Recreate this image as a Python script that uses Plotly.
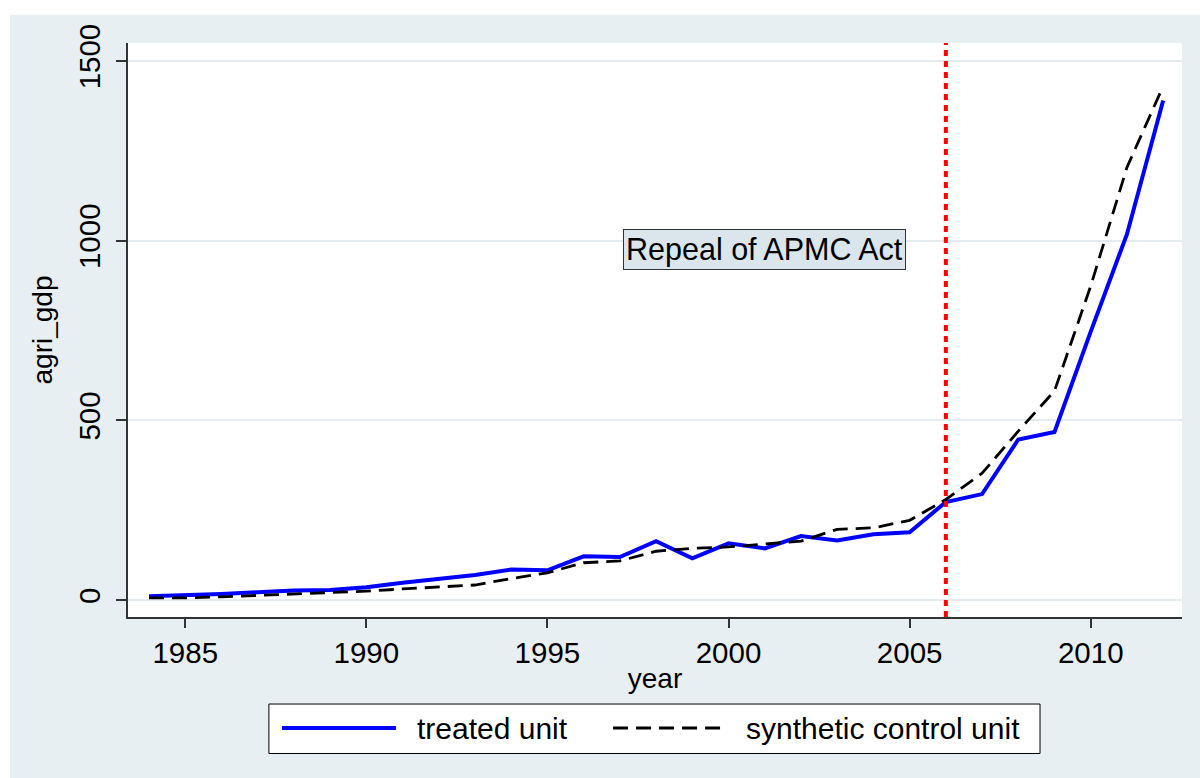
import plotly.graph_objects as go

# Agricultural GDP: treated state vs. its synthetic control
years = list(range(1984, 2013))
treated_unit = [11, 13, 17, 22, 27, 28, 36, 48, 58, 70, 85, 83, 122, 120, 164,
                116, 158, 144, 178, 166, 183, 189, 273, 295, 447, 468, 747, 1018, 1390]
synthetic_control = [6, 6, 9, 13, 16, 19, 25, 31, 36, 42, 60, 76, 104, 109, 136,
                     144, 148, 155, 164, 197, 201, 222, 280, 353, 470, 582, 874, 1204, 1430]

treatment_year = 2006
event_label = "Repeal of APMC Act"
event_label_pos = (2001, 975)

x_ticks = [1985, 1990, 1995, 2000, 2005, 2010]
y_ticks = [0, 500, 1000, 1500]
legend_labels = ["treated unit", "synthetic control unit"]

FONT = "Arial, Liberation Sans, sans-serif"
BG = "#E8EFF2"
GRID = "#E4ECEF"
DASH = "15px,8px"

fig = go.Figure()
fig.add_trace(go.Scatter(x=years, y=treated_unit, mode="lines", name=legend_labels[0],
                         line=dict(color="#0000FF", width=4)))
fig.add_trace(go.Scatter(x=years, y=synthetic_control, mode="lines", name=legend_labels[1],
                         line=dict(color="#000000", width=2.8, dash=DASH)))

# vertical marker at the policy change
fig.add_shape(type="line", xref="x", yref="paper", x0=treatment_year, x1=treatment_year,
              y0=0, y1=1, line=dict(color="#FF0000", width=4, dash="6px,5px"), layer="above")

fig.add_annotation(x=event_label_pos[0], y=event_label_pos[1], xref="x", yref="y",
                   text=event_label, showarrow=False, font=dict(family=FONT, size=30.5, color="#000"),
                   bgcolor="#DAE6EC", bordercolor="#333333", borderwidth=1, borderpad=2)

# hand-built legend box below the plot
L = dict(x0=0.1337, x1=0.8653, y0=-0.2378, y1=-0.1516)
fig.add_shape(type="rect", xref="paper", yref="paper", **L,
              line=dict(color="#000000", width=1), fillcolor="#FFFFFF")
ly = -0.1934
fig.add_shape(type="line", xref="paper", yref="paper", x0=0.1461, x1=0.2543, y0=ly, y1=ly,
              line=dict(color="#0000FF", width=4))
fig.add_shape(type="line", xref="paper", yref="paper", x0=0.4602, x1=0.5683, y0=ly, y1=ly,
              line=dict(color="#000000", width=2.8, dash=DASH))
fig.add_annotation(x=0.2723, y=ly, xref="paper", yref="paper", text=legend_labels[0],
                   showarrow=False, xanchor="left", yanchor="middle",
                   font=dict(family=FONT, size=30, color="#000"))
fig.add_annotation(x=0.5844, y=ly, xref="paper", yref="paper", text=legend_labels[1],
                   showarrow=False, xanchor="left", yanchor="middle",
                   font=dict(family=FONT, size=30, color="#000"))

# white page border at the top and left edges
fig.add_shape(type="rect", xref="paper", yref="paper", x0=-0.2, x1=1.05, y0=1.0488, y1=1.2,
              line=dict(width=0), fillcolor="#FFFFFF", layer="above")
fig.add_shape(type="rect", xref="paper", yref="paper", x0=-0.2, x1=-0.1120, y0=-0.4, y1=1.2,
              line=dict(width=0), fillcolor="#FFFFFF", layer="above")

fig.update_layout(
    width=1200, height=778,
    margin=dict(l=128, r=18, t=43, b=161),
    paper_bgcolor=BG, plot_bgcolor="#FFFFFF",
    showlegend=False,
    font=dict(family=FONT, size=29, color="#000"),
)
fig.update_xaxes(range=[1983.42, 2012.52], tickvals=x_ticks, ticks="outside", ticklen=9,
                 tickwidth=1.5, tickcolor="#333", showline=True, linecolor="#333", linewidth=1.5,
                 showgrid=False, zeroline=False, tickfont=dict(size=29.5),
                 title=dict(text="year", font=dict(size=28), standoff=0))
fig.update_yaxes(range=[-47, 1550], tickvals=y_ticks, ticks="outside", ticklen=10,
                 tickwidth=1.5, tickcolor="#333", showline=True, linecolor="#333", linewidth=1.5,
                 showgrid=True, gridcolor=GRID, gridwidth=2, zeroline=False,
                 tickangle=-90, tickfont=dict(size=29.5), ticklabelstandoff=4,
                 title=dict(text="agri_gdp", font=dict(size=28), standoff=13))

fig.write_html("out.html")
